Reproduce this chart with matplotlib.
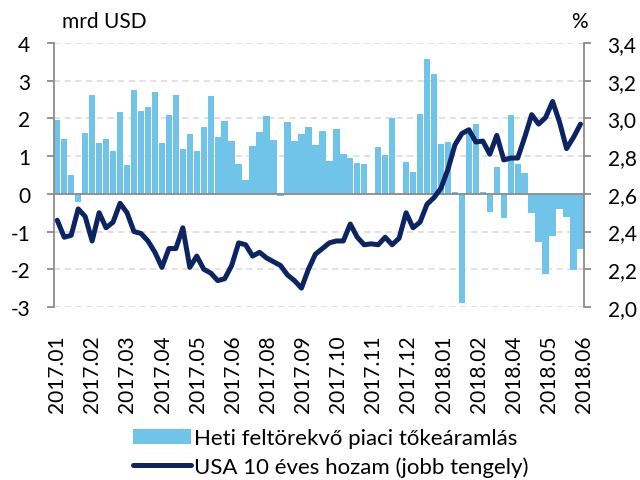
import numpy as np
import matplotlib
matplotlib.use("Agg")
import matplotlib.pyplot as plt

plt.rcParams['font.family'] = ['Lato', 'DejaVu Sans']
plt.rcParams['axes.unicode_minus'] = False

# heti feltorekvo piaci tokearamlas (mrd USD), 76 het
flows = [1.96, 1.46, 0.50, -0.21, 1.61, 2.61, 1.35, 1.45, 1.14, 2.17,
         0.77, 2.75, 2.21, 2.31, 2.70, 1.34, 2.08, 2.63, 1.19, 1.59,
         1.13, 1.78, 2.60, 1.50, 1.94, 1.41, 0.79, 0.36, 1.27, 1.65,
         2.06, 1.43, -0.07, 1.90, 1.39, 1.60, 1.77, 1.30, 1.66, 0.86,
         1.72, 1.07, 0.95, 0.83, 0.80, 0.00, 1.25, 1.03, 2.02, 0.00,
         0.84, 0.58, 2.13, 3.58, 3.18, 1.33, 1.37, 0.04, -2.90, 1.70,
         1.86, 0.04, -0.47, 0.71, -0.65, 2.08, 0.80, 0.56, -0.50, -1.29,
         -2.13, -1.12, -0.39, -0.61, -2.02, -1.47]

# USA 10 eves hozam (%)
yield10 = [2.46, 2.37, 2.38, 2.52, 2.48, 2.35, 2.50, 2.42, 2.45, 2.55,
           2.50, 2.40, 2.39, 2.35, 2.29, 2.21, 2.31, 2.31, 2.42, 2.21,
           2.27, 2.20, 2.18, 2.14, 2.15, 2.22, 2.34, 2.33, 2.27, 2.29,
           2.26, 2.24, 2.22, 2.17, 2.14, 2.10, 2.20, 2.28, 2.31, 2.34,
           2.35, 2.35, 2.44, 2.37, 2.33, 2.335, 2.33, 2.37, 2.33, 2.365,
           2.50, 2.42, 2.45, 2.545, 2.58, 2.63, 2.73, 2.86, 2.92, 2.94,
           2.875, 2.88, 2.81, 2.91, 2.78, 2.79, 2.79, 2.90, 3.02, 2.97,
           3.005, 3.09, 2.98, 2.84, 2.90, 2.97]

month_labels = ['2017.01', '2017.02', '2017.03', '2017.04', '2017.05', '2017.06',
                '2017.08', '2017.09', '2017.10', '2017.11', '2017.12', '2018.01',
                '2018.02', '2018.04', '2018.05', '2018.06']

bar_color = '#70c4ea'
line_color = '#0c2461'
axis_gray = '#8c8c8c'
grid_gray = '#d9d9d9'

x = np.arange(len(flows))

fig = plt.figure(figsize=(6.4, 4.81), dpi=100)
ax = fig.add_axes([0.084, 0.3597, 0.8285, 0.5488])
ax2 = ax.twinx()

ax.bar(x, flows, width=0.92, color=bar_color, zorder=2,
       label='Heti feltörekvő piaci tőkeáramlás')
ax.axhline(0, color=axis_gray, lw=1.3, zorder=3)
ax2.plot(x, yield10, color=line_color, lw=3.6, solid_joinstyle='round',
         solid_capstyle='round', label='USA 10 éves hozam (jobb tengely)')

ax.set_xlim(-0.5, len(flows) - 0.5)
ax.set_ylim(-3, 4)
ax.set_yticks(range(-3, 5))
ax2.set_ylim(2.0, 3.4)
ax2.set_yticks(np.arange(2.0, 3.41, 0.2))
ax2.set_yticklabels([f"{v:.1f}".replace('.', ',') for v in np.arange(2.0, 3.41, 0.2)])

ax.set_axisbelow(True)
ax.yaxis.grid(True, color=grid_gray, linestyle=(0, (4, 3)), lw=1.1)

# x tick labels spread over the weeks
pos = np.linspace(0, len(flows) - 0.5, len(month_labels))
ax.set_xticks(pos)
ax.set_xticklabels(month_labels, rotation=90, fontsize=15)
ax.tick_params(axis='x', length=0, pad=20)

for a in (ax, ax2):
    for s in ('top', 'bottom'):
        a.spines[s].set_visible(False)
    a.spines['left'].set_color(axis_gray)
    a.spines['right'].set_color(axis_gray)
    a.spines['left'].set_linewidth(1.3)
    a.spines['right'].set_linewidth(1.3)
ax.spines['right'].set_visible(False)
ax2.spines['left'].set_visible(False)

ax.tick_params(axis='y', length=5, width=1.3, color=axis_gray, pad=12, labelsize=15)
ax2.tick_params(axis='y', length=5, width=1.3, color=axis_gray, pad=12, labelsize=15)

fig.text(0.097, 0.955, 'mrd USD', fontsize=15, va='center', ha='left')
fig.text(0.905, 0.955, '%', fontsize=15, va='center', ha='center')

h1, l1 = ax.get_legend_handles_labels()
h2, l2 = ax2.get_legend_handles_labels()
fig.legend(h1 + h2, l1 + l2, loc='center', bbox_to_anchor=(0.517, 0.057),
           frameon=False, fontsize=16, handlelength=2.6, handletextpad=0.15,
           labelspacing=0.35, borderpad=0)

fig.savefig('out.png', dpi=100)
